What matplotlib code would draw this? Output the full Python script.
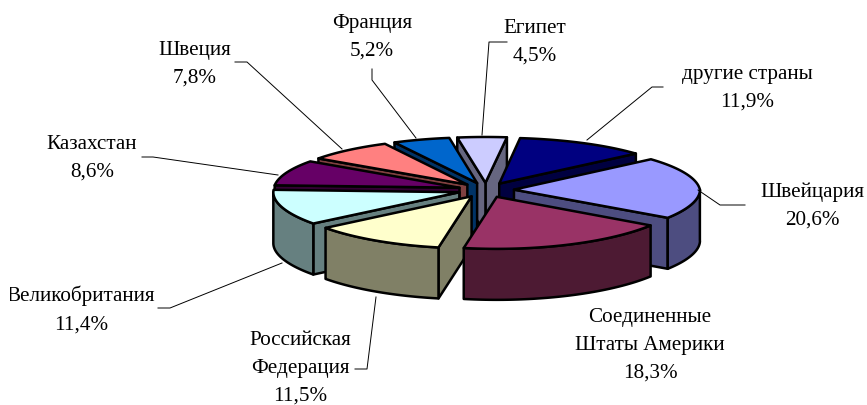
"""3D exploded pie chart, drawn by hand because matplotlib has no such pie."""

import numpy as np
import matplotlib
matplotlib.use('Agg')
import matplotlib.pyplot as plt
from matplotlib.patches import Polygon, Rectangle

plt.rcParams['font.family'] = ['Liberation Serif', 'DejaVu Serif']

countries = ['другие страны', 'Швейцария', 'Соединенные\nШтаты Америки',
             'Российская\nФедерация', 'Великобритания', 'Казахстан',
             'Швеция', 'Франция', 'Египет']
shares = [11.9, 20.6, 18.3, 11.5, 11.4, 8.6, 7.8, 5.2, 4.5]
top_colors = ['#000080', '#9999FF', '#993366', '#FFFFCC', '#CCFFFF',
              '#660066', '#FF8080', '#0066CC', '#CCCCFF']

START = 7            # degrees clockwise from 12 o'clock
CX, CY = 486, 190
R = 186
TILT = 0.262
PERSP = 0.05
EXPLODE = 28
DEPTH = 51

# label centres (first line) and leader lines, in picture pixels
label_pos = [(747, 65), (812, 182), (650, 308), (300, 331), (81, 286),
             (92, 135), (195, 41), (372, 14), (535, 19)]
leaders = [
    [(663, 87), (652, 87), (587, 140)],
    [(745, 205), (720, 205), (698, 190)],
    None,
    [(355, 369), (367, 369), (376, 297)],
    [(158, 308), (170, 308), (282, 263)],
    [(142, 157), (153, 157), (278, 175)],
    [(235, 62), (247, 62), (342, 149)],
    [(372, 69), (372, 80), (416, 138)],
    [(507, 42), (489, 42), (482, 135)],
]


def project(theta, radius, off, drop=0):
    """Disc point at clockwise angle theta (deg) to picture pixels."""
    t = np.radians(theta)
    x = radius * np.sin(t) + off[0]
    y = radius * np.cos(t) + off[1]
    s = 1 / (1 + PERSP * y / R)
    # only the far side narrows, the near side keeps its width
    return np.column_stack([CX + x * np.minimum(s, 1), CY - TILT * y * s + drop])


def wall_color(hex_color):
    rgb = np.array(matplotlib.colors.to_rgb(hex_color))
    return tuple(rgb / 2)


fig = plt.figure(figsize=(8.67, 4.05), dpi=100)
ax = fig.add_axes([0, 0, 1, 1])
ax.set_xlim(0, 867)
ax.set_ylim(405, 0)
ax.axis('off')

edges = START + np.cumsum([0] + shares) * 360 / sum(shares)
mids = (edges[:-1] + edges[1:]) / 2
style = dict(edgecolor='black', linewidth=1.8, joinstyle='round')

# back slices first
order = sorted(range(len(shares)), key=lambda i: -np.cos(np.radians(mids[i])))
for i in order:
    a, b = edges[i], edges[i + 1]
    m = np.radians(mids[i])
    off = (EXPLODE * np.sin(m), EXPLODE * np.cos(m))
    dark = wall_color(top_colors[i])
    tip = project(a, 0, off)
    tip_low = project(a, 0, off, DEPTH)

    # radial faces, only those turned to the viewer
    if np.sin(np.radians(b)) > 0:
        p = project(b, R, off)
        q = project(b, R, off, DEPTH)
        ax.add_patch(Polygon(np.vstack([tip, p, q, tip_low]), facecolor=dark, **style))
    if np.sin(np.radians(a)) < 0:
        p = project(a, R, off)
        q = project(a, R, off, DEPTH)
        ax.add_patch(Polygon(np.vstack([tip, p, q, tip_low]), facecolor=dark, **style))

    # outer wall for the part of the arc on the near side
    lo, hi = max(a, 90), min(b, 270)
    if lo < hi:
        th = np.linspace(lo, hi, 60)
        upper = project(th, R, off)
        lower = project(th, R, off, DEPTH)
        ax.add_patch(Polygon(np.vstack([upper, lower[::-1]]), facecolor=dark, **style))

    th = np.linspace(a, b, 60)
    ax.add_patch(Polygon(np.vstack([tip, project(th, R, off)]),
                         facecolor=top_colors[i], **style))

clip = Rectangle((10, 0), 857, 405, transform=ax.transData)
for i, name in enumerate(countries):
    text = name + '\n' + f'{shares[i]:.1f}%'.replace('.', ',')
    x, y = label_pos[i]
    t = ax.text(x, y, text, ha='center', va='top', fontsize=15.2,
                linespacing=1.62, color='black')
    t.set_clip_path(clip)
    t.set_clip_on(True)
    if leaders[i]:
        xs, ys = zip(*leaders[i])
        ax.plot(xs, ys, color='black', lw=0.7)

plt.savefig('out.png', dpi=100)
